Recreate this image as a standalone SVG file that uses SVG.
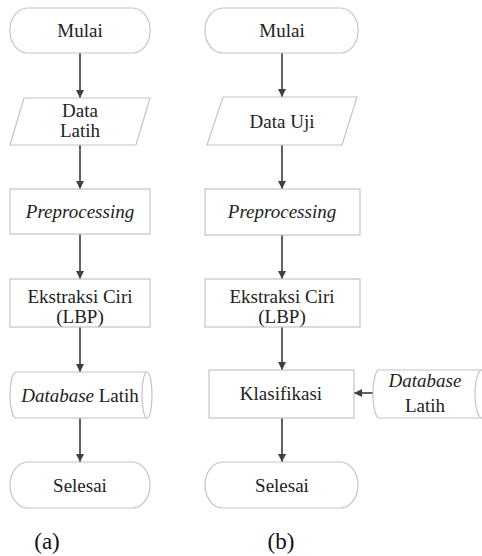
<svg xmlns="http://www.w3.org/2000/svg" width="482" height="556" viewBox="0 0 482 556">
<defs>
<style>
.box{fill:#fff;stroke:#c4c4c4;stroke-width:1.2}
.t{font-family:'Liberation Serif','Times New Roman',serif;font-size:19px;fill:#222;text-anchor:middle}
.i{font-style:italic}
.lbl{font-family:'Liberation Serif','Times New Roman',serif;font-size:23px;fill:#111;text-anchor:middle}
.c{stroke:#505050;stroke-width:1.8;fill:none;marker-end:url(#ah)}
</style>
<marker id="ah" markerUnits="userSpaceOnUse" markerWidth="8" markerHeight="8" viewBox="0 0 10 10" refX="10" refY="5" orient="auto">
<path d="M0,0 L10,5 L0,10 z" fill="#404040"/>
</marker>
</defs>
<rect width="482" height="556" fill="#fff"/>
<g id="connectors">
<line class="c" x1="80" y1="53" x2="80" y2="98"/>
<line class="c" x1="80" y1="145" x2="80" y2="189"/>
<line class="c" x1="80" y1="234" x2="80" y2="279"/>
<line class="c" x1="80" y1="327" x2="80" y2="372"/>
<line class="c" x1="80" y1="418" x2="80" y2="462"/>
<line class="c" x1="282" y1="53" x2="282" y2="97"/>
<line class="c" x1="282" y1="145" x2="282" y2="189"/>
<line class="c" x1="282" y1="235" x2="282" y2="279"/>
<line class="c" x1="282" y1="327" x2="282" y2="370"/>
<line class="c" x1="282" y1="418" x2="282" y2="462"/>
<line class="c" x1="375" y1="393" x2="354" y2="393"/>
</g>
<g id="a-mulai"><rect class="box" x="10" y="8" width="140" height="45" rx="18" ry="22"/><text class="t" x="80" y="37">Mulai</text></g>
<g id="a-data"><polygon class="box" points="24,98 150,98 136,145 10,145"/><text class="t" x="80" y="117">Data</text><text class="t" x="80" y="137">Latih</text></g>
<g id="a-pre"><rect class="box" x="10" y="189" width="140" height="45"/><text class="t i" x="80" y="218">Preprocessing</text></g>
<g id="a-eks"><rect class="box" x="10" y="279" width="140" height="48"/><text class="t" x="80" y="303">Ekstraksi Ciri</text><text class="t" x="80" y="323">(LBP)</text></g>
<g id="a-db"><path class="box" d="M16,372 H147 A5,23 0 0 1 147,418 H16 A6,23 0 0 1 16,372 Z"/><path class="box" d="M147,372 A5,23 0 0 0 147,418"/><text class="t" x="80" y="402"><tspan class="i">Database</tspan> Latih</text></g>
<g id="a-selesai"><rect class="box" x="10" y="462" width="140" height="46" rx="18" ry="23"/><text class="t" x="80" y="492">Selesai</text></g>
<g id="b-mulai"><rect class="box" x="205" y="8" width="153" height="45" rx="18" ry="22"/><text class="t" x="282" y="37">Mulai</text></g>
<g id="b-data"><polygon class="box" points="223,97 357,97 342,145 207,145"/><text class="t" x="282" y="128">Data Uji</text></g>
<g id="b-pre"><rect class="box" x="205" y="189" width="155" height="46"/><text class="t i" x="282" y="218">Preprocessing</text></g>
<g id="b-eks"><rect class="box" x="205" y="279" width="155" height="48"/><text class="t" x="282" y="303">Ekstraksi Ciri</text><text class="t" x="282" y="323">(LBP)</text></g>
<g id="b-klas"><rect class="box" x="209" y="370" width="145" height="48"/><text class="t" x="281" y="400">Klasifikasi</text></g>
<g id="b-db"><path class="box" d="M379,370 H482 A7,24 0 0 1 482,418 H379 A6,24 0 0 1 379,370 Z"/><path class="box" d="M482,370 A7,24 0 0 0 482,418"/><text class="t i" x="425" y="387">Database</text><text class="t" x="425" y="412">Latih</text></g>
<g id="b-selesai"><rect class="box" x="205" y="462" width="153" height="46" rx="18" ry="23"/><text class="t" x="282" y="492">Selesai</text></g>
<text class="lbl" x="47" y="549">(a)</text>
<text class="lbl" x="281" y="549">(b)</text>
</svg>
